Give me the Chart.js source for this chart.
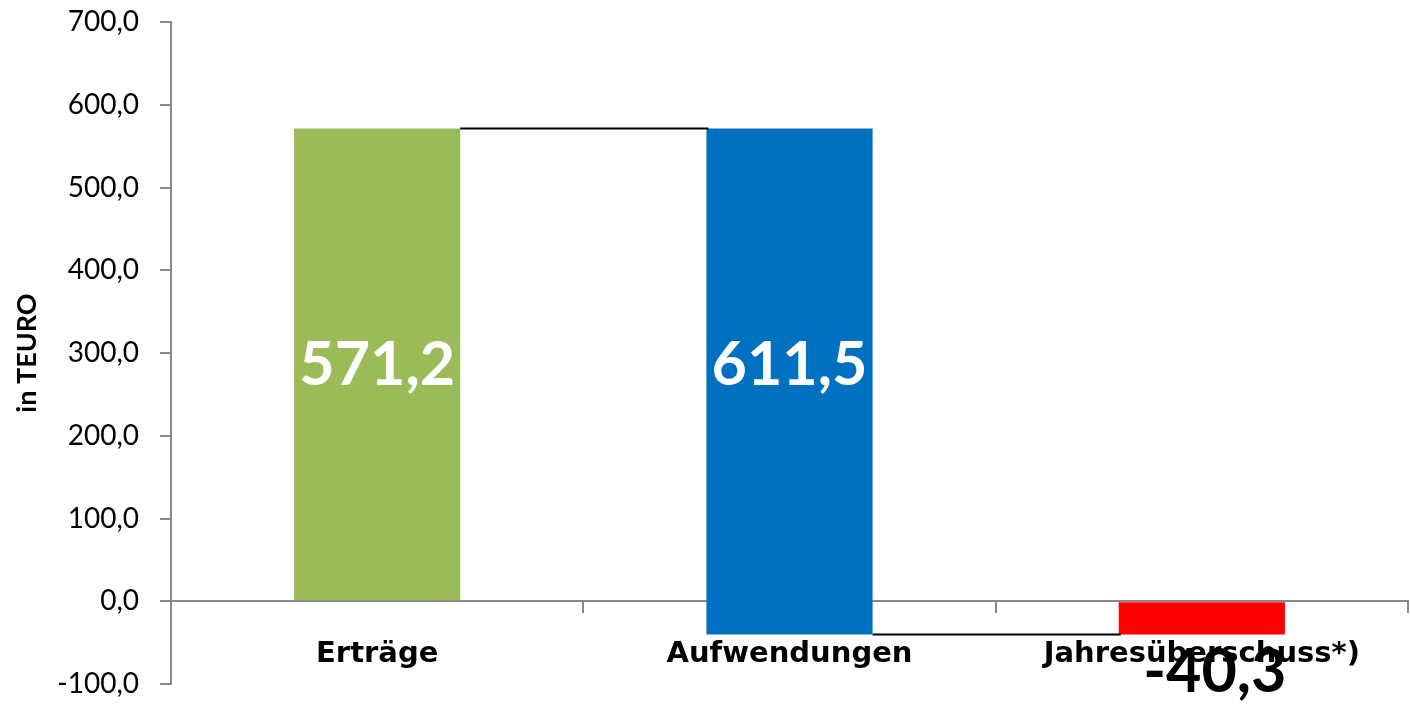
<!DOCTYPE html>
<html>
<head>
<meta charset="utf-8">
<script src="https://cdn.jsdelivr.net/npm/chart.js@4.4.1/dist/chart.umd.min.js"></script>
<style>
    html, body { margin: 0; padding: 0; background: #ffffff; }
    #wrap { width: 1410px; height: 704px; position: relative; }
</style>
</head>
<body>
<div id="wrap"><canvas id="waterfallChart"></canvas></div>
<script>
// Chart data
const categories = ['Erträge', 'Aufwendungen', 'Jahresüberschuss*)'];
const barStarts = [0, 571.2, 0];
const barEnds = [571.2, -40.3, -40.3];
const labelValues = [571.2, 611.5, -40.3];
const yTicks = [-100, 0, 100, 200, 300, 400, 500, 600, 700];

const colors = {
    green: '#9BBB59',
    blue: '#0070C0',
    red: '#FF0000',
    axis: '#898989'
};

const fontFamily = "Lato, 'Open Sans', sans-serif";
const catFont = "'DejaVu Sans', sans-serif";
const fmt = v => v.toFixed(1).replace('.', ',');

// connector lines between the bars (running total)
const connectorPlugin = {
    id: 'connectors',
    afterDatasetsDraw(chart) {
        const meta = chart.getDatasetMeta(0);
        const y = chart.scales.y;
        const ctx = chart.ctx;
        ctx.save();
        ctx.strokeStyle = '#000000';
        ctx.lineWidth = 2;
        for (let i = 0; i < meta.data.length - 1; i++) {
            const a = meta.data[i];
            const b = meta.data[i + 1];
            const py = y.getPixelForValue(barEnds[i]);
            ctx.beginPath();
            ctx.moveTo(a.x + a.width / 2, py);
            ctx.lineTo(b.x - b.width / 2 + 2, py);
            ctx.stroke();
        }
        ctx.restore();
    }
};

// value labels
const valueLabelPlugin = {
    id: 'valueLabels',
    afterDraw(chart) {
        const meta = chart.getDatasetMeta(0);
        const y = chart.scales.y;
        const ctx = chart.ctx;
        ctx.save();
        ctx.font = 'bold 61px ' + fontFamily;
        ctx.textAlign = 'center';
        ctx.textBaseline = 'middle';
        meta.data.forEach((bar, i) => {
            const lo = Math.min(barStarts[i], barEnds[i]);
            const hi = Math.max(barStarts[i], barEnds[i]);
            if (hi > 0) {
                const mid = (Math.max(lo, 0) + hi) / 2;
                ctx.fillStyle = '#ffffff';
                ctx.fillText(fmt(labelValues[i]), bar.x, y.getPixelForValue(mid));
            } else {
                ctx.fillStyle = '#000000';
                ctx.fillText(fmt(labelValues[i]), bar.x + 13, y.getPixelForValue(lo) + 38);
            }
        });
        ctx.restore();
    }
};

const chart = new Chart(document.getElementById('waterfallChart'), {
    type: 'bar',
    data: {
        labels: categories,
        datasets: [{
            data: barStarts.map((s, i) => [s, barEnds[i]]),
            backgroundColor: [colors.green, colors.blue, colors.red],
            borderWidth: 0,
            borderSkipped: false,
            categoryPercentage: 1,
            barPercentage: 0.403
        }]
    },
    options: {
        responsive: true,
        maintainAspectRatio: false,
        animation: false,
        layout: { padding: { top: 22, right: 2, bottom: 20, left: 0 } },
        plugins: {
            legend: { display: false },
            tooltip: { enabled: false }
        },
        scales: {
            x: {
                position: { y: 0 },
                grid: {
                    display: true,
                    drawOnChartArea: false,
                    offset: true,
                    color: colors.axis,
                    lineWidth: 2,
                    tickLength: 11
                },
                border: { display: true, color: colors.axis, width: 2 },
                ticks: {
                    color: '#000000',
                    padding: 25,
                    maxRotation: 0,
                    font: { family: catFont, size: 29, weight: 'bold' }
                }
            },
            y: {
                min: -100,
                max: 700,
                afterBuildTicks: scale => {
                    scale.ticks = yTicks.map(v => ({ value: v }));
                },
                afterFit: scale => {
                    scale.width = 171;
                    scale.paddingTop = 0;
                    scale.paddingBottom = 0;
                },
                grid: {
                    display: true,
                    drawOnChartArea: false,
                    color: colors.axis,
                    lineWidth: 2,
                    tickLength: 11
                },
                border: { display: true, color: colors.axis, width: 2 },
                ticks: {
                    color: '#000000',
                    padding: 21,
                    callback: v => fmt(v),
                    font: { family: fontFamily, size: 28 }
                },
                title: {
                    display: true,
                    text: 'in TEURO',
                    color: '#000000',
                    padding: { top: 11, bottom: 0 },
                    font: { family: fontFamily, size: 27, weight: 'bold' }
                }
            }
        }
    },
    plugins: [connectorPlugin, valueLabelPlugin]
});
</script>
</body>
</html>
